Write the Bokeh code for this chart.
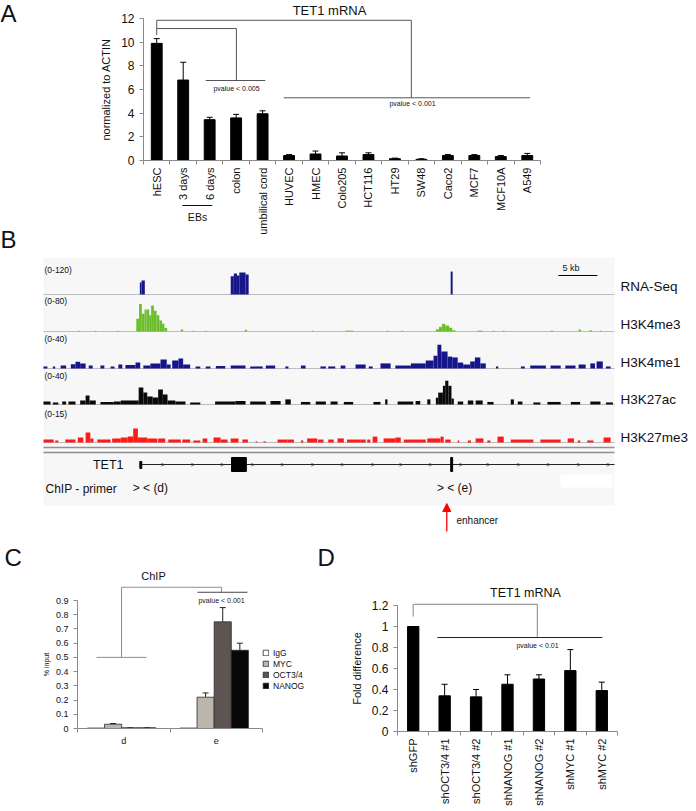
import numpy as np
from bokeh.plotting import figure
from bokeh.models import (Range1d, FixedTicker, Label, Whisker, TeeHead, ColumnDataSource,
                          Arrow, NormalHead, Legend, LegendItem, LinearAxis)
from bokeh.core.properties import value
from bokeh.embed import file_html
from bokeh.resources import INLINE

FONT = "Liberation Sans"

# ---------------- Panel A data ----------------
a_categories = ["hESC", "3 days", "6 days", "colon", "umbilical cord", "HUVEC", "HMEC",
                "Colo205", "HCT116", "HT29", "SW48", "Caco2", "MCF7", "MCF10A", "A549"]
a_values = [9.9, 6.8, 3.45, 3.6, 3.95, 0.42, 0.55, 0.38, 0.5, 0.15, 0.1, 0.42, 0.42, 0.33, 0.42]
a_err_top = [10.3, 8.3, 3.65, 3.9, 4.2, 0.5, 0.8, 0.65, 0.65, 0.2, 0.15, 0.5, 0.5, 0.42, 0.6]
a_yticks = [0, 2, 4, 6, 8, 10, 12]

# ---------------- Panel B data (genomic position in kb, signal value) ----------------
rna_seq = [(12.35, 12.56, 42), (12.56, 12.99, 49), (24.0, 24.4, 64), (24.4, 24.8, 74),
           (24.8, 25.1, 67), (25.1, 25.9, 78), (25.9, 26.3, 71), (52.2, 52.45, 81)]
h3k4me3 = [(4.5, 4.7, 2), (6.6, 6.8, 2), (9.4, 9.6, 2),
           (11.9, 12.25, 30), (12.25, 12.6, 65), (12.6, 12.95, 42), (12.95, 13.2, 52),
           (13.2, 13.55, 52), (13.55, 13.8, 38), (13.8, 14.15, 61), (14.15, 14.5, 49),
           (14.5, 14.85, 38), (14.85, 15.2, 26), (15.2, 15.5, 18), (15.5, 15.85, 8),
           (17.6, 17.9, 5), (19.1, 19.3, 2), (20.7, 20.9, 2), (25.8, 26.1, 4), (34.4, 34.6, 2),
           (38.7, 39.7, 2), (44.0, 44.2, 2), (45.9, 46.1, 2),
           (50.3, 50.7, 5), (50.7, 51.1, 11), (51.1, 51.5, 18), (51.5, 52.0, 14),
           (52.0, 52.4, 9), (52.4, 52.8, 3),
           (55.6, 56.3, 2), (57.6, 57.8, 2), (58.9, 59.1, 2), (65.0, 65.3, 2),
           (68.6, 68.9, 4.7), (70.0, 70.3, 3), (71.3, 71.5, 2)]
h3k4me1 = [(0.0, 0.5, 2.4), (1.2, 1.5, 2.4), (2.2, 2.9, 3.5), (3.5, 4.1, 5), (4.1, 4.7, 8),
           (4.7, 5.4, 6), (5.8, 6.3, 3.5), (7.3, 7.8, 3.5), (8.6, 9.1, 2.4), (9.6, 10.1, 4.7),
           (10.5, 11.8, 4), (11.8, 12.4, 7), (12.8, 13.7, 3.5), (13.7, 15.0, 6), (15.0, 15.8, 10.6),
           (15.8, 16.3, 4.7), (16.5, 17.3, 9.4), (17.3, 17.9, 11.8), (17.9, 18.8, 4.7),
           (19.5, 20.1, 2.4), (20.8, 21.4, 2.4), (22.1, 23.3, 3), (24.0, 25.9, 3.5),
           (26.5, 28.1, 2.4), (28.5, 29.7, 3.5), (31.0, 31.4, 2.4), (33.0, 33.6, 3.5),
           (35.5, 36.2, 2.4), (36.5, 37.4, 2.4), (38.1, 38.7, 3.5), (40.0, 41.3, 4.7),
           (41.7, 42.2, 2.4), (43.2, 44.5, 6), (45.1, 47.1, 3.5), (47.1, 49.0, 6), (49.0, 50.0, 9.4),
           (50.0, 50.5, 15), (50.5, 51.0, 28), (51.0, 51.8, 20), (51.8, 52.4, 14), (52.4, 53.1, 13),
           (53.1, 53.8, 7), (53.8, 54.7, 4.7), (54.7, 55.3, 8.3), (55.3, 56.0, 13), (56.0, 56.7, 6),
           (58.0, 58.3, 2.4), (61.2, 61.7, 2.4), (62.4, 64.4, 3.5), (65.0, 66.3, 3.5),
           (66.9, 68.2, 3.5), (68.6, 69.5, 4.7), (70.1, 70.7, 6), (70.9, 71.7, 8.3), (72.1, 72.7, 2.4)]
h3k27ac = [(0.0, 0.9, 3.5), (1.2, 1.9, 2.4), (2.4, 2.9, 3.5), (3.2, 4.1, 3.5), (4.7, 5.4, 4.7),
           (5.4, 5.9, 10.6), (5.9, 6.7, 4.7), (7.3, 9.0, 3.0), (9.0, 9.9, 3.5), (9.9, 12.2, 4.7),
           (12.2, 12.8, 20), (12.8, 13.3, 14), (13.3, 14.0, 9.4), (14.0, 14.7, 8.3), (14.7, 15.3, 17.7),
           (15.3, 15.9, 11.8), (15.9, 16.9, 4.7), (16.9, 18.2, 3.5), (18.8, 20.1, 2.4), (22.0, 24.6, 3.5),
           (24.6, 25.9, 4.1), (26.5, 28.5, 3.5), (29.1, 30.4, 4.1), (31.0, 31.7, 6), (33.0, 34.2, 3.0),
           (34.9, 36.2, 3.5), (36.8, 37.7, 3.5), (38.5, 39.7, 3.0), (42.3, 43.2, 3.0), (43.8, 44.1, 6),
           (45.4, 47.4, 3.5), (47.7, 48.3, 4.1), (49.2, 49.6, 6), (50.3, 50.6, 8), (50.6, 51.2, 14),
           (51.2, 51.5, 22), (51.5, 51.9, 28), (51.9, 52.3, 22), (52.3, 52.6, 7), (53.1, 53.8, 3.5),
           (54.4, 55.1, 4.7), (55.4, 56.3, 4.7), (56.9, 57.7, 3.0), (59.9, 60.3, 6), (60.8, 61.4, 3.5),
           (62.8, 63.7, 2.4), (64.6, 66.3, 3.0), (67.6, 68.8, 3.0), (70.1, 71.4, 3.5), (72.1, 73.0, 2.4)]
h3k27me3 = [(0.0, 1.3, 1.3), (1.5, 1.9, 0.9), (2.8, 4.1, 1.3), (4.4, 5.1, 2.2), (5.4, 6.0, 4.4),
            (6.0, 6.4, 1.8), (6.9, 8.6, 1.3), (8.8, 9.9, 1.8), (9.9, 10.8, 2.2), (10.8, 11.5, 2.6),
            (11.5, 12.1, 6.2), (12.1, 13.3, 2.2), (13.3, 14.6, 1.8), (14.7, 15.6, 1.8), (16.0, 17.6, 1.3),
            (17.8, 18.8, 1.3), (19.2, 20.1, 0.9), (20.4, 21.0, 1.8), (21.8, 22.7, 2.2), (22.7, 23.6, 1.3),
            (24.0, 25.0, 1.8), (25.5, 26.2, 1.3), (27.2, 27.4, 0.5), (28.2, 28.5, 0.5), (30.0, 31.3, 1.3),
            (31.3, 32.1, 1.3), (33.0, 33.3, 0.9), (33.8, 35.1, 1.8), (35.2, 35.9, 1.3), (36.5, 37.2, 1.3),
            (37.7, 38.5, 1.8), (38.9, 40.6, 1.3), (40.6, 41.3, 1.3), (41.5, 41.9, 1.3), (42.2, 42.8, 2.6),
            (43.6, 45.1, 1.8), (45.1, 45.8, 2.2), (46.2, 49.0, 1.3), (49.2, 50.9, 1.8), (50.9, 51.3, 2.6),
            (51.5, 52.2, 1.3), (53.1, 53.3, 0.9), (54.4, 54.8, 0.9), (55.4, 56.4, 1.8), (56.9, 57.3, 0.9),
            (58.2, 59.0, 2.6), (59.9, 62.8, 1.3), (63.7, 66.3, 1.3), (67.2, 68.0, 1.8), (68.5, 68.8, 0.9),
            (69.7, 70.5, 0.9), (71.8, 72.7, 2.2)]
b_track_names = ["RNA-Seq", "H3K4me3", "H3K4me1", "H3K27ac", "H3K27me3"]
b_track_max = [120, 80, 40, 40, 15]
b_track_data = [rna_seq, h3k4me3, h3k4me1, h3k27ac, h3k27me3]
b_gene_start = 12.4
b_exons = [(12.35, 12.6), (24.1, 26.0), (52.2, 52.45)]
b_intron_arrows = [15.3, 19.1, 22.9, 26.8, 30.6, 34.5, 38.3, 42.2, 45.8, 49.6, 53.5, 57.0,
                   60.9, 64.7, 68.6, 72.4]
b_primers = [(13.7, "> < (d)"), (52.7, "> < (e)")]
b_enhancer = 51.7
b_region_kb = 73.2
b_scale_bar = (66.0, 71.0)

# ---------------- Panel C data ----------------
c_groups = ["d", "e"]
c_series = ["IgG", "MYC", "OCT3/4", "NANOG"]
c_igg = [0.003, 0.003]
c_myc = [0.03, 0.22]
c_oct = [0.005, 0.75]
c_nanog = [0.005, 0.55]
c_myc_err = [0.035, 0.25]
c_oct_err = [0.005, 0.85]
c_nanog_err = [0.005, 0.60]
c_yticks = [0, 0.1, 0.2, 0.3, 0.4, 0.5, 0.6, 0.7, 0.8, 0.9]
c_ytick_labels = ["0", "0.1", "0.2", "0.3", "0.4", "0.5", "0.6", "0.7", "0.8", "0.9"]

# ---------------- Panel D data ----------------
d_categories = ["shGFP", "shOCT3/4 #1", "shOCT3/4 #2", "shNANOG #1", "shNANOG #2", "shMYC #1", "shMYC #2"]
d_values = [1.0, 0.34, 0.33, 0.45, 0.50, 0.58, 0.39]
d_err_top = [1.0, 0.45, 0.40, 0.54, 0.54, 0.78, 0.47]
d_yticks = [0, 0.2, 0.4, 0.6, 0.8, 1.0, 1.2]
d_ytick_labels = ["0", "0.2", "0.4", "0.6", "0.8", "1", "1.2"]

AXIS_GRAY = "#8a8a8a"
TXT = "#111111"
W, H = 694, 809

# One canvas; every panel gets its own scales (extra ranges) mapped onto its region.
p = figure(width=W, height=H, x_range=Range1d(0, W), y_range=Range1d(H, 0),
           output_backend="svg", toolbar_location=None, title=None,
           x_axis_location=None, y_axis_location=None, min_border=0)
p.outline_line_color = None
p.background_fill_color = "white"
p.border_fill_color = "white"
for g in p.grid:
    g.visible = False


def xmap(x0, x1, px0, px1):
    k = (x1 - x0) / (px1 - px0)
    return Range1d(x0 - px0 * k, x0 + (W - px0) * k)


def ymap(y0, y1, py0, py1):
    k = (y1 - y0) / (py0 - py1)
    return Range1d(y0 - (H - py0) * k, y0 + py0 * k)


# panel regions (pixels)
extra_x = {"Ax": xmap(0, 15, 143, 540), "Bx": xmap(0, b_region_kb, 43, 614),
           "Cx": xmap(0, 2, 77, 262), "Dx": xmap(0, 7, 397, 617)}
extra_y = {"Ay": ymap(0, 12, 160, 18), "Cy": ymap(0, 0.9, 728, 600), "Dy": ymap(0, 1.2, 731, 605)}
b_baselines = [294, 331, 368, 404, 442]
BAND = 34.0
for i in range(len(b_track_names)):
    extra_y["t%d" % i] = ymap(0, b_track_max[i], b_baselines[i], b_baselines[i] - BAND)
p.extra_x_ranges = extra_x
p.extra_y_ranges = extra_y


def lab(x, y, text, size, align="center", baseline="middle", color=TXT, xr="default", yr="default"):
    p.add_layout(Label(x=x, y=y, text=text, text_font=FONT, text_font_size=size,
                       text_align=align, text_baseline=baseline, text_color=color,
                       x_range_name=xr, y_range_name=yr))


def cat_xaxis(xr, yr, cats, size, orient=None):
    n = len(cats)
    ax = LinearAxis(x_range_name=xr, y_range_name=yr, fixed_location=0, bounds=(0, n),
                    ticker=FixedTicker(ticks=[i + 0.5 for i in range(n)],
                                       minor_ticks=list(range(n + 1))))
    ax.major_label_overrides = {i + 0.5: c for i, c in enumerate(cats)}
    ax.major_tick_in = 0
    ax.major_tick_out = 0
    ax.minor_tick_in = 0
    ax.minor_tick_out = 4
    ax.minor_tick_line_color = AXIS_GRAY
    ax.axis_line_color = AXIS_GRAY
    ax.major_label_text_font = FONT
    ax.major_label_text_font_size = size
    ax.major_label_text_color = TXT
    ax.major_label_standoff = 3
    if orient is not None:
        ax.major_label_orientation = orient
    p.add_layout(ax, "below")
    return ax


def num_yaxis(xr, yr, ticks, labels, size, label, label_size, bounds, standoff=6):
    ax = LinearAxis(x_range_name=xr, y_range_name=yr, fixed_location=0, bounds=bounds,
                    ticker=FixedTicker(ticks=ticks))
    ax.major_label_overrides = {float(t): l for t, l in zip(ticks, labels)}
    ax.minor_tick_line_color = None
    ax.major_tick_in = 0
    ax.major_tick_out = 4
    ax.major_tick_line_color = AXIS_GRAY
    ax.axis_line_color = AXIS_GRAY
    ax.major_label_text_font = FONT
    ax.major_label_text_font_size = size
    ax.major_label_text_color = TXT
    ax.axis_label = label
    ax.axis_label_text_font = FONT
    ax.axis_label_text_font_size = label_size
    ax.axis_label_text_font_style = "normal"
    ax.axis_label_text_color = TXT
    ax.axis_label_standoff = standoff
    p.add_layout(ax, "left")
    return ax


# =============== Panel A ===============
cat_xaxis("Ax", "Ay", a_categories, "11px", np.pi / 2)
num_yaxis("Ax", "Ay", a_yticks, [str(t) for t in a_yticks], "12px", "normalized to ACTIN", "11px", (0, 12))
a_x = [i + 0.5 for i in range(len(a_categories))]
p.vbar(x=a_x, top=a_values, width=0.41, fill_color="black", line_color="black",
       x_range_name="Ax", y_range_name="Ay")
srcA = ColumnDataSource(dict(x=a_x, lower=a_values, upper=a_err_top))
p.add_layout(Whisker(base="x", lower="lower", upper="upper", source=srcA, dimension="height",
                     line_color="black", line_width=1, lower_head=None,
                     upper_head=TeeHead(size=6, line_color="black", line_width=1),
                     x_range_name="Ax", y_range_name="Ay"))
BR = "#555555"
kwA = dict(line_color=BR, line_width=1, x_range_name="Ax", y_range_name="Ay")
p.line(x=[0.5, 0.5, 10.12, 10.12], y=[10.6, 11.85, 11.85, 5.3], **kwA)
p.line(x=[5.3, 14.6], y=[5.3, 5.3], **kwA)
p.line(x=[0.5, 3.51, 3.51], y=[11.15, 11.15, 6.76], **kwA)
p.line(x=[2.35, 4.6], y=[6.76, 6.76], **kwA)
lab(236, 88, "pvalue < 0.005", "7px")
lab(412, 103, "pvalue < 0.001", "7px")
lab(329, 10, "TET1 mRNA", "13px")
lab(0, 13, "A", "24px", align="left")
p.segment(x0=1.47, x1=2.6, y0=205, y1=205, line_color=TXT, line_width=1, x_range_name="Ax")
lab(197, 216, "EBs", "10.5px")

# =============== Panel B ===============
p.quad(left=43, right=614, top=257, bottom=505, fill_color="#f7f7f7", line_color=None)
b_label_y = [269, 300, 338, 375, 413]
b_name_y = [286, 324, 362, 399, 437]
b_colors = ["#16168a", "#6cbd2c", "#16168a", "#0a0a0a", "#ff1a1a"]
for i, name in enumerate(b_track_names):
    d = b_track_data[i]
    p.segment(x0=43, x1=614, y0=b_baselines[i], y1=b_baselines[i], line_color="#bdbdbd", line_width=1)
    p.quad(left=[t[0] for t in d], right=[t[1] for t in d], bottom=0, top=[t[2] for t in d],
           x_range_name="Bx", y_range_name="t%d" % i, fill_color=b_colors[i], line_color=None)
    lab(44, b_label_y[i], "(0-%d)" % b_track_max[i], "8.5px", align="left")
    lab(620, b_name_y[i], name, "13.5px", align="left")

p.segment(x0=43, x1=614, y0=447, y1=447, line_color="#909090", line_width=1.5)
p.segment(x0=43, x1=614, y0=452, y1=452, line_color="#909090", line_width=1.5)
p.segment(x0=b_scale_bar[0], x1=b_scale_bar[1], y0=275, y1=275, line_color="black", line_width=1,
          x_range_name="Bx")
lab(562, 267, "5 kb", "9px", align="left")
p.segment(x0=b_gene_start, x1=b_region_kb, y0=464, y1=464, line_color="#222", line_width=1,
          x_range_name="Bx")
p.quad(left=[e[0] for e in b_exons], right=[e[1] for e in b_exons],
       top=[461, 457, 457], bottom=[468, 471, 471], fill_color="black", line_color="black",
       x_range_name="Bx")
p.text(x=b_intron_arrows, y=[464] * len(b_intron_arrows), text=[">"] * len(b_intron_arrows),
       text_font=value(FONT), text_font_size="7px", text_align="center",
       text_baseline="middle", text_color="#333", x_range_name="Bx")
lab(123, 464, "TET1", "12.5px", align="right")
lab(45, 488, "ChIP - primer", "12px", align="left")
p.quad(left=560, right=612, top=474, bottom=487, fill_color="white", line_color=None)
for xk, t in b_primers:
    lab(xk, 487, t, "12px", xr="Bx")
p.add_layout(Arrow(x_start=b_enhancer, y_start=531, x_end=b_enhancer, y_end=503,
                   end=NormalHead(size=8, fill_color="red", line_color="red"),
                   line_color="red", line_width=1.3, x_range_name="Bx"))
lab(456, 520, "enhancer", "10px", align="left")
lab(0, 239, "B", "24px", align="left")

# =============== Panel C ===============
cat_xaxis("Cx", "Cy", c_groups, "9px")
num_yaxis("Cx", "Cy", c_yticks, c_ytick_labels, "9px", "% input", "7px", (0, 0.9), standoff=3)
c_offsets = [-0.30, -0.115, 0.07, 0.255]
c_colors = ["white", "#bcb5ab", "#5e5553", "#080808"]
c_vals = [c_igg, c_myc, c_oct, c_nanog]
c_errs = [None, c_myc_err, c_oct_err, c_nanog_err]
c_renderers = []
for k, sname in enumerate(c_series):
    xs = [g + 0.5 + c_offsets[k] for g in range(len(c_groups))]
    r = p.vbar(x=xs, top=c_vals[k], width=0.185, fill_color=c_colors[k],
               line_color="#2a2a2a", line_width=0.8, x_range_name="Cx", y_range_name="Cy")
    c_renderers.append(r)
    if c_errs[k] is not None:
        src = ColumnDataSource(dict(x=xs, lower=c_vals[k], upper=c_errs[k]))
        p.add_layout(Whisker(base="x", lower="lower", upper="upper", source=src, dimension="height",
                             line_color="#222", line_width=1, lower_head=None,
                             upper_head=TeeHead(size=6, line_color="#222", line_width=1),
                             x_range_name="Cx", y_range_name="Cy"))
legC = Legend(items=[LegendItem(label=s, renderers=[r]) for s, r in zip(c_series, c_renderers)],
              location=(262, H - 691), orientation="vertical", margin=0, padding=0, spacing=0,
              label_height=11, glyph_height=7, glyph_width=7, label_standoff=4,
              label_text_font=FONT, label_text_font_size="8.5px", label_text_color=TXT,
              border_line_alpha=0, background_fill_alpha=0)
p.add_layout(legC)
GR = "#8f8f8f"
kwC = dict(line_width=1, x_range_name="Cx", y_range_name="Cy")
p.line(x=[0.205, 0.746], y=[0.5, 0.5], line_color=GR, **kwC)
p.line(x=[0.476, 0.476, 1.557, 1.557], y=[0.5, 0.993, 0.993, 0.958], line_color=GR, **kwC)
p.line(x=[1.297, 1.838], y=[0.958, 0.958], line_color="#444", **kwC)
lab(221, 600, "pvalue < 0.001", "7px")
lab(153, 575, "ChIP", "11px")
lab(4, 557, "C", "24px", align="left")

# =============== Panel D ===============
cat_xaxis("Dx", "Dy", d_categories, "11px", np.pi / 2)
num_yaxis("Dx", "Dy", d_yticks, d_ytick_labels, "12px", "Fold difference", "11px", (0, 1.2))
d_x = [i + 0.5 for i in range(len(d_categories))]
p.vbar(x=d_x, top=d_values, width=0.36, fill_color="black", line_color="black",
       x_range_name="Dx", y_range_name="Dy")
srcD = ColumnDataSource(dict(x=d_x[1:], lower=d_values[1:], upper=d_err_top[1:]))
p.add_layout(Whisker(base="x", lower="lower", upper="upper", source=srcD, dimension="height",
                     line_color="black", line_width=1, lower_head=None,
                     upper_head=TeeHead(size=6, line_color="black", line_width=1),
                     x_range_name="Dx", y_range_name="Dy"))
kwD = dict(x_range_name="Dx", y_range_name="Dy")
p.line(x=[0.5, 0.5, 4.45, 4.45], y=[1.095, 1.21, 1.21, 0.895], line_color="#9a9a9a", line_width=1.2, **kwD)
p.line(x=[1.27, 6.52], y=[0.895, 0.895], line_color="#222", line_width=1, **kwD)
lab(537, 645, "pvalue < 0.01", "7px")
lab(525, 592, "TET1 mRNA", "12.5px")
lab(317, 557, "D", "24px", align="left")

open("out.html", "w").write(file_html(p, INLINE))
